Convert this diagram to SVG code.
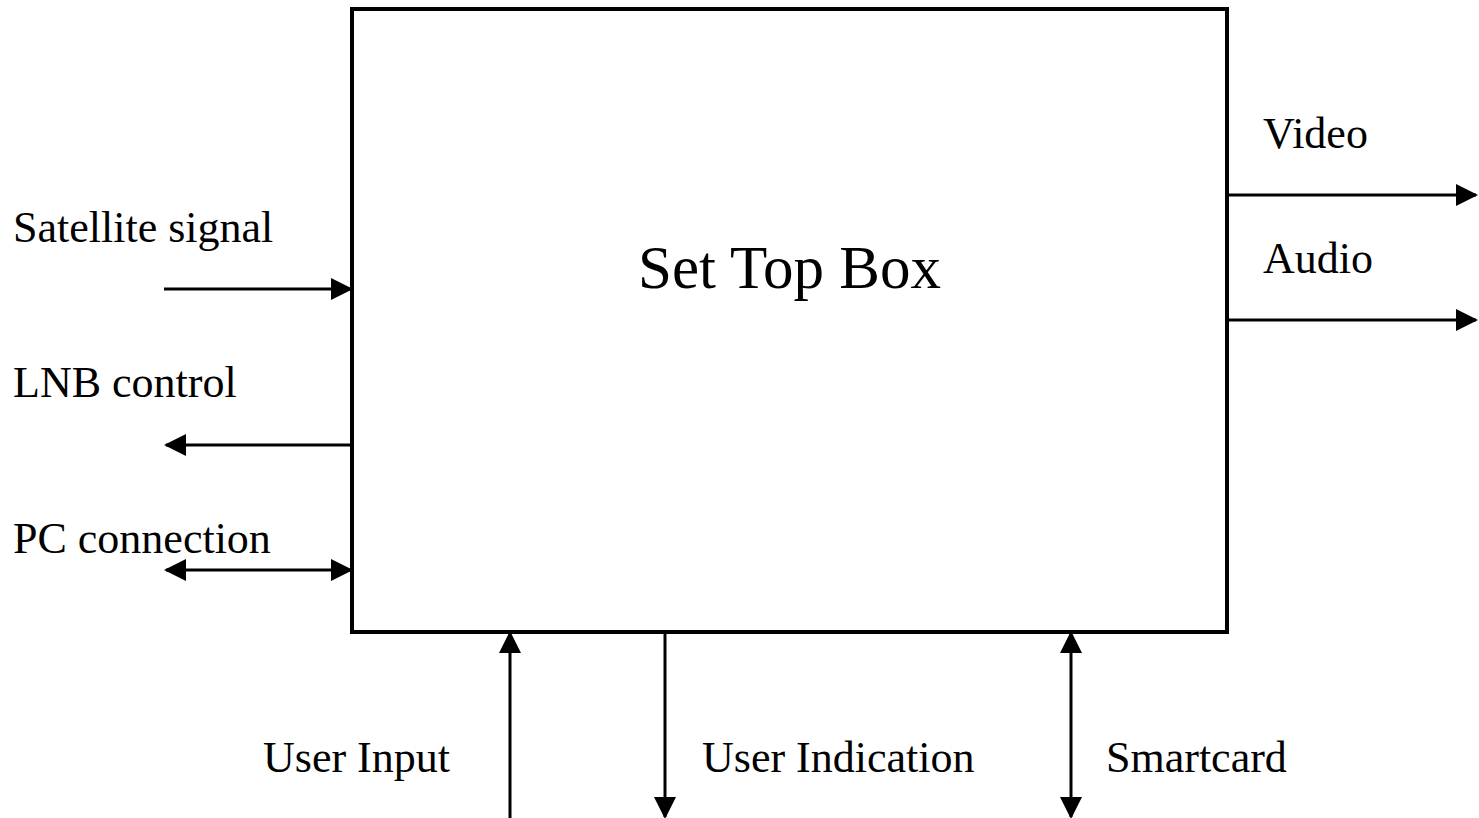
<svg xmlns="http://www.w3.org/2000/svg" width="1479" height="818" viewBox="0 0 1479 818">
<style>
.t{font-family:"Liberation Serif","Times New Roman",serif;font-size:44px;fill:#000}
.c{stroke:#000;stroke-width:3;fill:none}
</style>
<defs>
<marker id="ah" markerUnits="userSpaceOnUse" markerWidth="22" markerHeight="22" viewBox="0 0 22 22" refX="20" refY="11" orient="auto-start-reverse">
<path d="M0,0 L22,11 L0,22 z" fill="#000"/>
</marker>
</defs>
<rect width="1479" height="818" fill="#fff"/>
<g id="stb">
<rect x="352" y="9" width="875" height="623" fill="#fff" stroke="#000" stroke-width="4"/>
<text class="t" x="638" y="288" style="font-size:61px">Set Top Box</text>
</g>
<g id="labels">
<text class="t" x="13" y="242">Satellite signal</text>
<text class="t" x="13" y="397">LNB control</text>
<text class="t" x="13" y="553">PC connection</text>
<text class="t" x="1263" y="148">Video</text>
<text class="t" x="1263" y="273">Audio</text>
<text class="t" x="263" y="772">User Input</text>
<text class="t" x="702" y="772">User Indication</text>
<text class="t" x="1106" y="772">Smartcard</text>
</g>
<g id="connectors">
<line class="c" x1="164" y1="289" x2="351" y2="289" marker-end="url(#ah)"/>
<line class="c" x1="352" y1="445" x2="166" y2="445" marker-end="url(#ah)"/>
<line class="c" x1="166" y1="570" x2="351" y2="570" marker-start="url(#ah)" marker-end="url(#ah)"/>
<line class="c" x1="1227" y1="195" x2="1476" y2="195" marker-end="url(#ah)"/>
<line class="c" x1="1227" y1="320" x2="1476" y2="320" marker-end="url(#ah)"/>
<line class="c" x1="510" y1="818" x2="510" y2="633" marker-end="url(#ah)"/>
<line class="c" x1="665" y1="632" x2="665" y2="817" marker-end="url(#ah)"/>
<line class="c" x1="1071" y1="633" x2="1071" y2="817" marker-start="url(#ah)" marker-end="url(#ah)"/>
</g>
</svg>
